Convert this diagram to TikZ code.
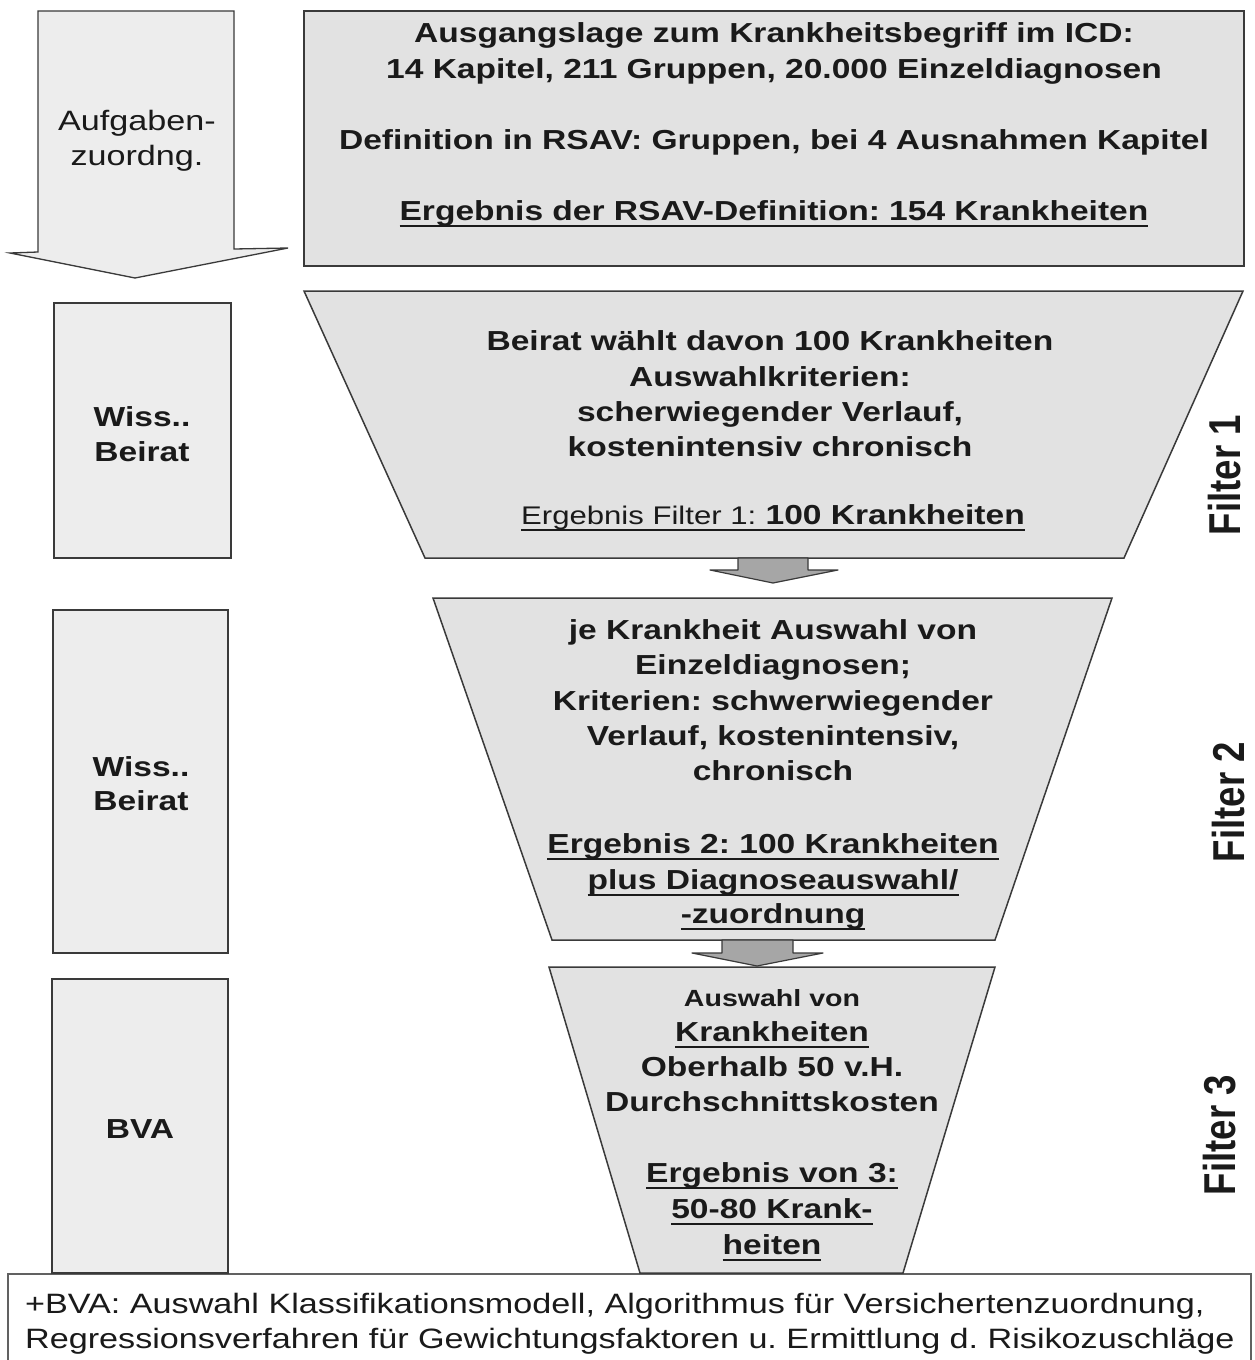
\documentclass[tikz,border=0pt]{standalone}
\usepackage{graphicx}
\usepackage{fontspec}
\setmainfont{Liberation Sans}[FakeStretch=1.22]
\newfontfamily\rotfont{Liberation Sans}
\frenchspacing
\newsavebox\ulbox
\newcommand\myul[1]{\sbox\ulbox{#1}\rlap{\rule[-7pt]{\wd\ulbox}{1.9pt}}\usebox\ulbox}
\definecolor{edge}{HTML}{3A3A3A}
\definecolor{boxfill}{HTML}{E2E2E2}
\definecolor{sidefill}{HTML}{EDEDED}
\definecolor{arrfill}{HTML}{A6A6A6}
\definecolor{txt}{HTML}{1A1A1A}
\begin{document}
\begin{tikzpicture}[x=1pt,y=-1pt,
  bl/.style={font=\fontsize{27.5}{33}\selectfont\bfseries\frenchspacing, inner sep=0pt, anchor=base, text=txt},
  rl/.style={font=\fontsize{28}{33}\selectfont\frenchspacing, inner sep=0pt, anchor=base, text=txt},
  sl/.style={font=\fontsize{23.4}{30}\selectfont\bfseries\frenchspacing, inner sep=0pt, anchor=base, text=txt},
  fl/.style={font=\rotfont\fontsize{36.6}{40}\selectfont\bfseries, inner sep=0pt, rotate=90, text=txt},
  box/.style={draw=edge, line width=1.5pt, fill=boxfill, line join=miter},
  side/.style={draw=edge, line width=1.5pt, fill=sidefill},
  blockarrow/.style={draw=edge, line width=1.2pt, fill=arrfill, line join=round},
  bigarrow/.style={draw=edge, line width=1.3pt, fill=sidefill, line join=miter}]
\useasboundingbox (0,0) rectangle (1254,1360);
\clip (0,0) rectangle (1254,1360);
\fill[white] (0,0) rectangle (1254,1360);

% bottom box
\draw[draw=edge!80, line width=1.5pt, fill=white] (8,1274) rectangle (1251,1390);

% big left arrow
\draw[bigarrow] (38,11) -- (234,11) -- (234,249) -- (288,248) -- (135,278) -- (10,253) -- (38,252) -- cycle;
\node[rl] (aufg1) at (137,130) {Aufgaben-};
\node[rl] (aufg2) at (137,165) {zuordng.};

% top box
\draw[box] (304,11) rectangle (1244,266);
\node[bl] (top1) at (774,42) {Ausgangslage zum Krankheitsbegriff im ICD:};
\node[bl] (top2) at (774,78) {14 Kapitel, 211 Gruppen, 20.000 Einzeldiagnosen};
\node[bl] (top3) at (774,149) {Definition in RSAV: Gruppen, bei 4 Ausnahmen Kapitel};
\node[bl] (top4) at (774,220) {\myul{Ergebnis der RSAV-Definition: 154 Krankheiten}};

% filter 1
\draw[box] (304,291) -- (1243,291) -- (1124,558) -- (425,558) -- cycle;
\node[bl] (f1a) at (770,350) {Beirat wählt davon 100 Krankheiten};
\node[bl] (f1b) at (770,386) {Auswahlkriterien:};
\node[bl] (f1c) at (770,421) {scherwiegender Verlauf,};
\node[bl] (f1d) at (770,456) {kostenintensiv chronisch};
\node[bl] (f1e) at (773,524) {\myul{{\fontsize{25.5}{30}\selectfont\mdseries Ergebnis Filter 1:} 100 Krankheiten}};

% arrow 1
\draw[blockarrow] (738,558) -- (808,558) -- (808,570) -- (838,570) -- (773,583) -- (710,570) -- (738,570) -- cycle;

% filter 2
\draw[box] (433,598) -- (1112,598) -- (995,940) -- (552,940) -- cycle;
\node[bl] (f2a) at (773,639) {je Krankheit Auswahl von};
\node[bl] (f2b) at (773,674) {Einzeldiagnosen;};
\node[bl] (f2c) at (773,710) {Kriterien: schwerwiegender};
\node[bl] (f2d) at (773,745) {Verlauf, kostenintensiv,};
\node[bl] (f2e) at (773,780) {chronisch};
\node[bl] (f2f) at (773,853) {\myul{Ergebnis 2: 100 Krankheiten}};
\node[bl] (f2g) at (773,889) {\myul{plus Diagnoseauswahl/}};
\node[bl] (f2h) at (773,923) {\myul{-zuordnung}};

% arrow 2
\draw[blockarrow] (722,940) -- (793,940) -- (793,953) -- (823,953) -- (757,966) -- (692,953) -- (722,953) -- cycle;

% filter 3
\draw[box] (549,967) -- (995,967) -- (903,1273) -- (640,1273) -- cycle;
\node[sl] (f3a) at (772,1006) {Auswahl von};
\node[bl] (f3b) at (772,1041) {\myul{Krankheiten}};
\node[bl] (f3c) at (772,1076) {Oberhalb 50 v.H.};
\node[bl] (f3d) at (772,1111) {Durchschnittskosten};
\node[bl] (f3e) at (772,1182) {\myul{Ergebnis von 3:}};
\node[bl] (f3f) at (772,1218) {\myul{50-80 Krank-}};
\node[bl] (f3g) at (772,1254) {\myul{heiten}};

% left boxes
\draw[side] (54,303) rectangle (231,558);
\node[bl] (wb1a) at (142,426) {Wiss..};
\node[bl] (wb1b) at (142,461) {Beirat};
\draw[side] (53,610) rectangle (228,953);
\node[bl] (wb2a) at (141,776) {Wiss..};
\node[bl] (wb2b) at (141,810) {Beirat};
\draw[side] (52,979) rectangle (228,1273);
\node[bl] (bva) at (140,1138) {BVA};

% filter labels
\node[fl] (lab1) at (1225,475) {\scalebox{1}[1.22]{Filter 1}};
\node[fl] (lab2) at (1229,802) {\scalebox{1}[1.22]{Filter 2}};
\node[fl] (lab3) at (1220,1135) {\scalebox{1}[1.22]{Filter 3}};

% bottom text
\node[rl, anchor=base west] (bt1) at (25,1313) {+BVA: Auswahl Klassifikationsmodell, Algorithmus für Versichertenzuordnung,};
\node[rl, anchor=base west] (bt2) at (25,1348) {Regressionsverfahren für Gewichtungsfaktoren u. Ermittlung d. Risikozuschläge};
\end{tikzpicture}
\end{document}
